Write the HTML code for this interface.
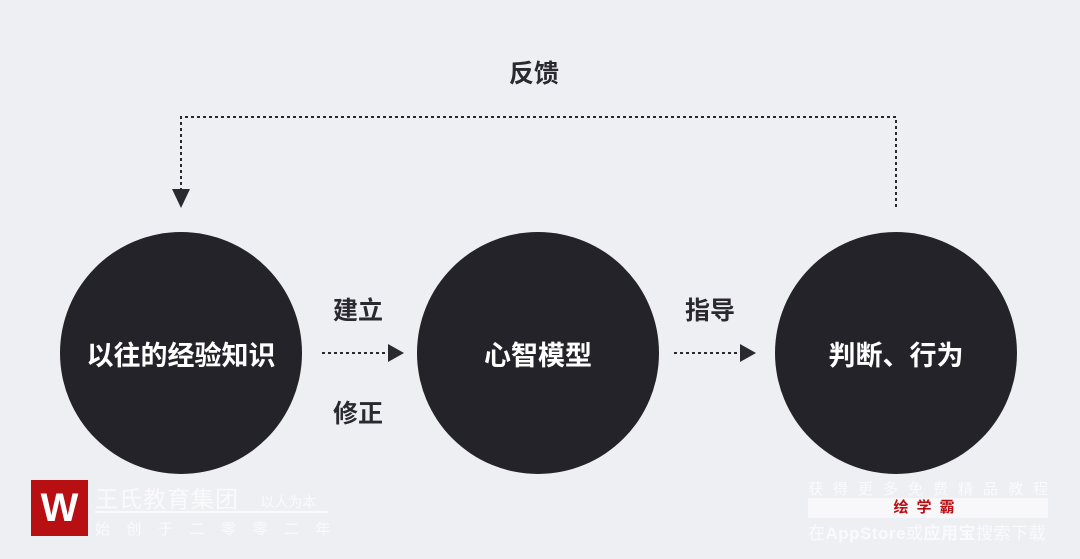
<!DOCTYPE html>
<html><head><meta charset="utf-8"><style>
body{margin:0;width:1080px;height:559px;background:#eeeff3;overflow:hidden;position:relative;font-family:"Liberation Sans","Noto Sans CJK SC",sans-serif}
.c{position:absolute;width:242px;height:242px;border-radius:50%;background:#242329;color:#fff;font-size:27px;font-weight:bold;display:flex;align-items:center;justify-content:center;top:232px}
.t{position:absolute;font-size:25px;font-weight:bold;color:#2a2930}
.w{position:absolute;color:#fafafc;white-space:nowrap}
</style></head><body>
<svg width="1080" height="559" style="position:absolute;left:0;top:0">
<g stroke="#2a2930" stroke-width="2" stroke-dasharray="3,3" fill="none">
<path d="M896 207 V117 H181 V192"/>
<path d="M322 353 H392"/>
<path d="M674 353 H744"/>
</g>
<g fill="#2a2930">
<path d="M172 189 L190 189 L181 208 Z"/>
<path d="M388 344 L404 353 L388 362 Z"/>
<path d="M740 344 L756 353 L740 362 Z"/>
</g>
</svg>
<div class="c" style="left:60px">以往的经验知识</div>
<div class="c" style="left:417px">心智模型</div>
<div class="c" style="left:775px">判断、行为</div>
<div class="t" style="left:509px;top:54px">反馈</div>
<div class="t" style="left:333px;top:291px">建立</div>
<div class="t" style="left:333px;top:394px">修正</div>
<div class="t" style="left:685px;top:291px">指导</div>
<div style="position:absolute;left:31px;top:480px;width:57px;height:56px;background:#b80f12;color:#fff;font-size:40px;font-weight:bold;text-align:center;line-height:56px">W</div>
<div class="w" style="left:95px;top:480px;font-size:23px;letter-spacing:1px">王氏教育集团 <span style="font-size:14px;margin-left:14px;letter-spacing:0">以人为本</span></div>
<div style="position:absolute;left:95px;top:511px;width:233px;height:2px;background:#fafafc"></div>
<div class="w" style="left:95px;top:518px;font-size:15px;letter-spacing:16.5px">始创于二零零二年</div>
<div class="w" style="left:808px;top:478px;font-size:15px;letter-spacing:10px">获得更多免费精品教程</div>
<div style="position:absolute;left:808px;top:498px;width:240px;height:20px;background:#f8f8fa;color:#b80f12;font-weight:bold;font-size:15px;text-align:center;line-height:20px;letter-spacing:8px">绘学霸</div>
<div class="w" style="left:808px;top:519px;font-size:17px;letter-spacing:0.5px">在<b>AppStore</b>或<b>应用宝</b>搜索下载</div>
</body></html>
